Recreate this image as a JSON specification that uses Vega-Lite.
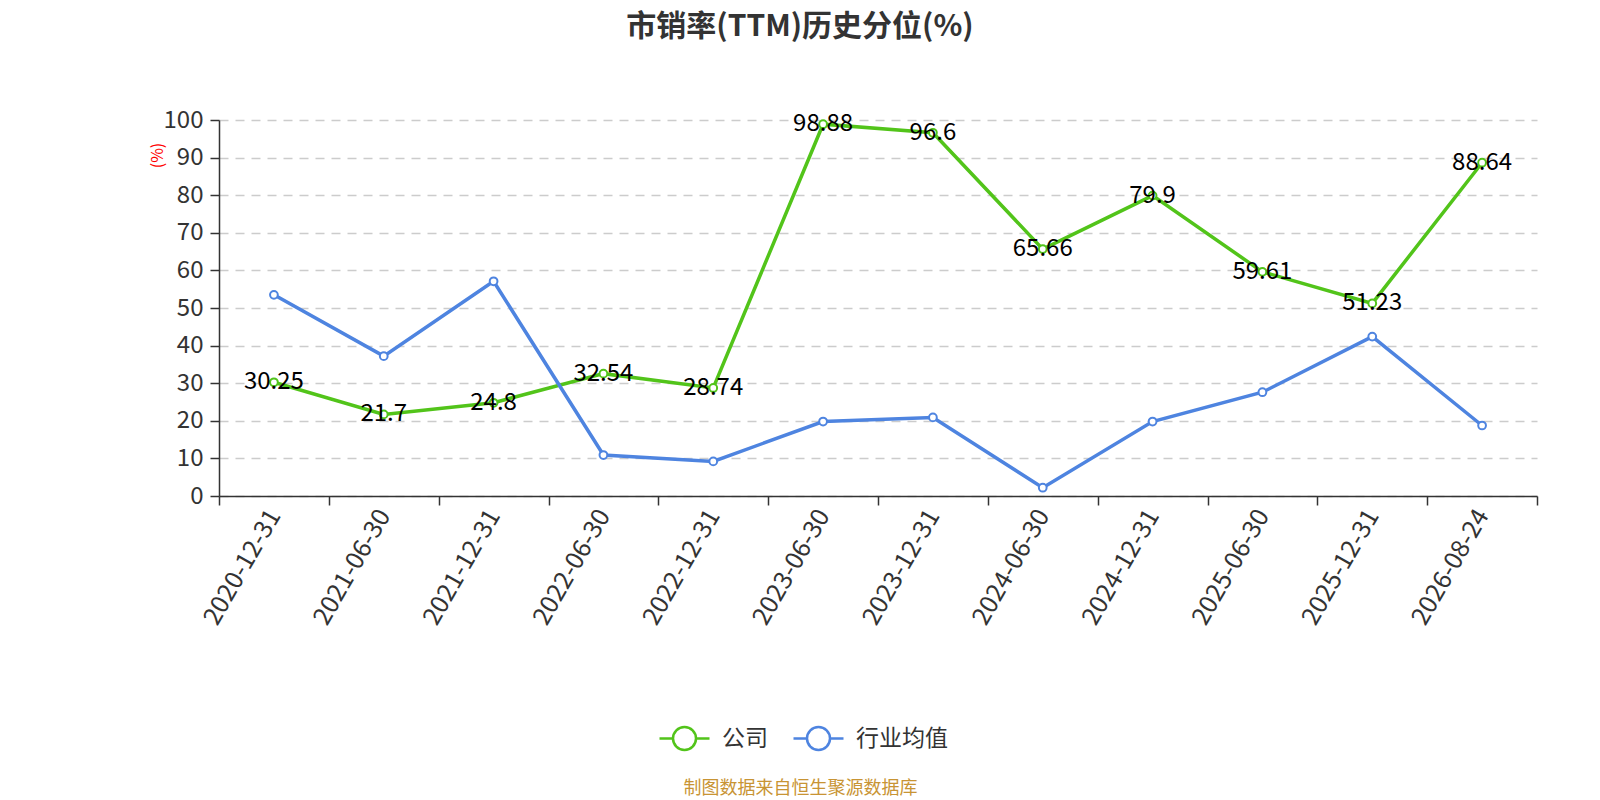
{
  "$schema": "https://vega.github.io/schema/vega-lite/v6.json",
  "width": 1318,
  "height": 376,
  "autosize": {"type": "none"},
  "padding": {"left": 219, "top": 120, "right": 63, "bottom": 304},
  "background": "white",
  "title": {
    "text": "市销率(TTM)历史分位(%)",
    "fontSize": 30,
    "fontWeight": "bold",
    "color": "#333333",
    "anchor": "middle",
    "frame": "group",
    "dx": -78,
    "offset": 66
  },
  "data": {
    "values": [
      {"date": "2020-12-31", "series": "公司", "value": 30.25},
      {"date": "2021-06-30", "series": "公司", "value": 21.7},
      {"date": "2021-12-31", "series": "公司", "value": 24.8},
      {"date": "2022-06-30", "series": "公司", "value": 32.54},
      {"date": "2022-12-31", "series": "公司", "value": 28.74},
      {"date": "2023-06-30", "series": "公司", "value": 98.88},
      {"date": "2023-12-31", "series": "公司", "value": 96.6},
      {"date": "2024-06-30", "series": "公司", "value": 65.66},
      {"date": "2024-12-31", "series": "公司", "value": 79.9},
      {"date": "2025-06-30", "series": "公司", "value": 59.61},
      {"date": "2025-12-31", "series": "公司", "value": 51.23},
      {"date": "2026-08-24", "series": "公司", "value": 88.64},
      {"date": "2020-12-31", "series": "行业均值", "value": 53.5},
      {"date": "2021-06-30", "series": "行业均值", "value": 37.2},
      {"date": "2021-12-31", "series": "行业均值", "value": 57.1},
      {"date": "2022-06-30", "series": "行业均值", "value": 10.9},
      {"date": "2022-12-31", "series": "行业均值", "value": 9.2},
      {"date": "2023-06-30", "series": "行业均值", "value": 19.8},
      {"date": "2023-12-31", "series": "行业均值", "value": 20.9},
      {"date": "2024-06-30", "series": "行业均值", "value": 2.2},
      {"date": "2024-12-31", "series": "行业均值", "value": 19.8},
      {"date": "2025-06-30", "series": "行业均值", "value": 27.6},
      {"date": "2025-12-31", "series": "行业均值", "value": 42.4},
      {"date": "2026-08-24", "series": "行业均值", "value": 18.75}
    ]
  },
  "encoding": {
    "x": {
      "field": "date",
      "type": "ordinal",
      "bandPosition": 0.5,
      "scale": {"type": "band", "paddingInner": 0, "paddingOuter": 0},
      "axis": {
        "title": "制图数据来自恒生聚源数据库",
        "titleColor": "#c89434",
        "titleFontSize": 18,
        "titleFontWeight": "normal",
        "titleX": 581,
        "titleY": 292,
        "titleAlign": "center",
        "titleBaseline": "middle",
        "tickBand": "extent",
        "domainColor": "#333333",
        "domainWidth": 1.5,
        "tickColor": "#333333",
        "tickWidth": 1.5,
        "tickSize": 9,
        "labelAngle": -60,
        "labelAlign": "right",
        "labelBaseline": "middle",
        "labelFontSize": 25,
        "labelColor": "#333333",
        "labelPadding": 6,
        "labelOverlap": false,
        "grid": false
      }
    },
    "y": {
      "field": "value",
      "type": "quantitative",
      "scale": {"domain": [0, 100], "nice": false},
      "axis": {
        "title": "(%)",
        "titleColor": "red",
        "titleFontSize": 16,
        "titleFontWeight": "normal",
        "titleX": -62,
        "titleY": 35,
        "titleAlign": "center",
        "titleBaseline": "middle",
        "values": [0, 10, 20, 30, 40, 50, 60, 70, 80, 90, 100],
        "domainColor": "#333333",
        "domainWidth": 1.5,
        "tickColor": "#333333",
        "tickWidth": 1.5,
        "tickSize": 9,
        "labelFontSize": 24,
        "labelColor": "#333333",
        "labelPadding": 7,
        "grid": true,
        "gridColor": "#cccccc",
        "gridWidth": 1.5,
        "gridDash": [9, 7]
      }
    },
    "color": {
      "field": "series",
      "type": "nominal",
      "scale": {"domain": ["公司", "行业均值"], "range": ["#52c41a", "#4e84e0"]},
      "legend": {
        "title": null,
        "orient": "none",
        "direction": "horizontal",
        "legendX": 439,
        "legendY": 592,
        "symbolType": "M-1,0H-0.46M0.46,0H1M0.46,0A0.46,0.46,0,1,1,-0.46,0A0.46,0.46,0,1,1,0.46,0Z",
        "symbolSize": 2500,
        "symbolStrokeWidth": 2.5,
        "symbolFillColor": "white",
        "labelFontSize": 23,
        "labelColor": "#333333",
        "labelOffset": 11,
        "columnPadding": 20
      }
    }
  },
  "layer": [
    {
      "mark": {"type": "line", "strokeWidth": 3.5}
    },
    {
      "mark": {"type": "point", "filled": false, "fill": "white", "fillOpacity": 1, "size": 60, "strokeWidth": 2, "opacity": 1}
    },
    {
      "transform": [{"filter": "datum.series === '公司'"}],
      "mark": {"type": "text", "fontSize": 24, "color": "black", "align": "center", "baseline": "middle"},
      "encoding": {
        "text": {"field": "value", "type": "nominal"},
        "color": {"value": "black"}
      }
    }
  ],
  "config": {
    "font": "Noto Sans CJK SC",
    "view": {"stroke": null}
  }
}
